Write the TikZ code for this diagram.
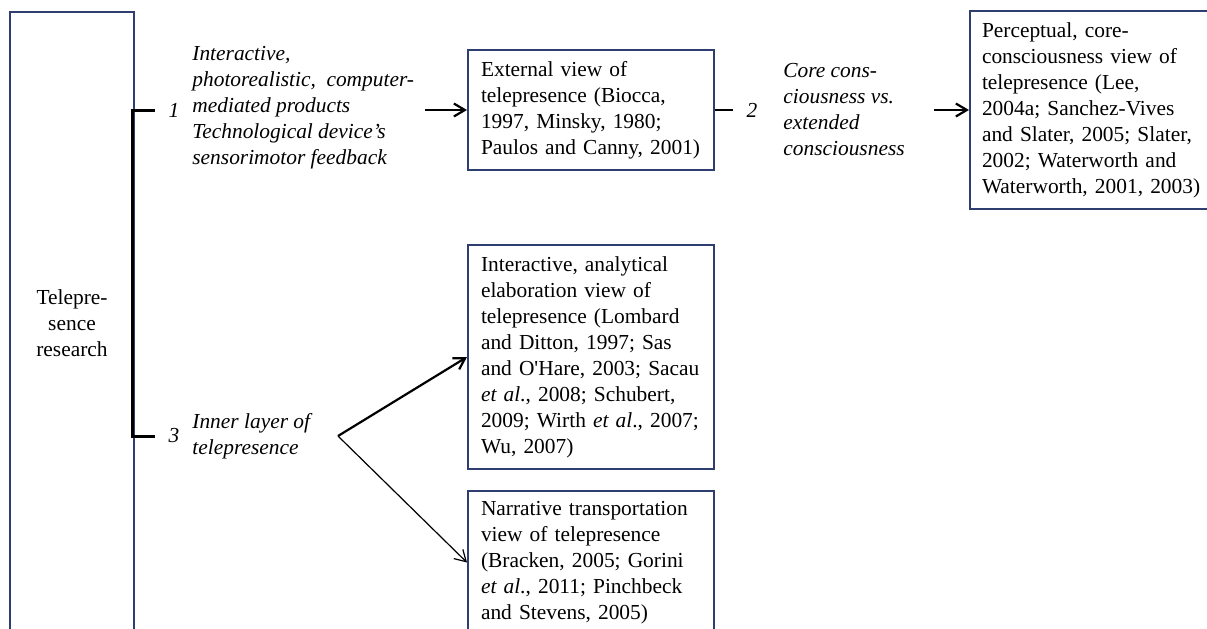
\documentclass[tikz,border=0pt]{standalone}
\usepackage{fontspec}
\setmainfont{Liberation Serif}
\usetikzlibrary{arrows.meta, positioning}
\definecolor{BoxNavy}{HTML}{2F3E70}
\definecolor{LineBlack}{HTML}{000000}
\tikzset{
    % Default text
    every node/.style={font=\fontsize{10.7}{13}\selectfont},
    % Root box on the left
    root/.style={
        rectangle,
        draw=BoxNavy,
        line width=1pt,
        minimum width=62pt,
        minimum height=311pt,
        align=center,
        inner sep=0pt
    },
    % View box
    view/.style={
        rectangle,
        draw=BoxNavy,
        line width=1pt,
        text width=110pt,
        inner xsep=6.5pt,
        align=left
    },
    % Italic theme text
    theme/.style={
        inner sep=0pt,
        align=left,
        font=\fontsize{10.7}{13}\selectfont\itshape
    },
    % Branch number
    num/.style={
        inner sep=0pt,
        font=\fontsize{10.7}{13}\selectfont\itshape
    },
    % Arrow style
    arrow/.style={
        -{Straight Barb[length=5.5pt,width=6.5pt]},
        line width=1.1pt,
        color=LineBlack
    },
    % Plain link
    link/.style={
        line width=1.1pt,
        color=LineBlack
    },
    % Bracket
    bracket/.style={
        line width=1.5pt,
        color=LineBlack
    }
}

\begin{document}
\begin{tikzpicture}[x=0.5pt, y=-0.5pt]
    \useasboundingbox (0,0) rectangle (1207,628);
    \clip (0,0) rectangle (1207,628);

    % Root
    \node (root) [root, anchor=north west] at (9,11) {Telepre-\\sence\\research};

    % Bracket
    \coordinate (b1) at (132,110);
    \coordinate (b3) at (132,436);
    \coordinate (k1) at (155,110);
    \coordinate (k3) at (155,436);
    \draw [bracket] (k1) -- (b1) -- (b3) -- (k3);

    \node (n1) [num] at (174,110) {1};
    \node (n3) [num] at (174,436) {3};
    \node (t1) [theme, anchor=west] at (192,108) {Interactive,\\photorealistic,\ \ computer-\\mediated products\\Technological device’s\\sensorimotor feedback};
    \node (t3) [theme, anchor=west] at (192,436) {Inner layer of\\telepresence};

    % Views
    \node (ext) [view, anchor=west, minimum height=60pt] at (467,110) {External view of\\telepresence (Biocca,\\1997, Minsky, 1980;\\Paulos and Canny, 2001)};
    \node (perc) [view, right=127pt of ext, minimum height=99pt, text width=116pt, inner xsep=6pt] {Perceptual, core-\\consciousness view of\\telepresence (Lee,\\2004a; Sanchez-Vives\\and Slater, 2005; Slater,\\2002; Waterworth and\\Waterworth, 2001, 2003)};
    \node (inter) [view, below=36.5pt of ext, minimum height=112pt] {Interactive, analytical\\elaboration view of\\telepresence (Lombard\\and Ditton, 1997; Sas\\and O\textquotesingle Hare, 2003; Sacau\\\textit{et al}., 2008; Schubert,\\2009; Wirth \textit{et al}., 2007;\\Wu, 2007)};
    \node (narr) [view, below=10pt of inter, minimum height=71.5pt] {Narrative transportation\\view of telepresence\\(Bracken, 2005; Gorini\\\textit{et al}., 2011; Pinchbeck\\and Stevens, 2005)};

    % Middle label
    \node (n2) [num] at (752,110) {2};
    \node (t2) [theme, anchor=west] at (783,110) {Core cons-\\ciousness vs.\\extended\\consciousness};

    % Connectors
    \coordinate (a1) at (425,110);
    \coordinate (k2) at (733,110);
    \coordinate (a2) at (934,110);
    \coordinate (fork) at (338,436);

    \draw [arrow] (a1) -- (ext.west);
    \draw [link] (ext.east) -- (k2);
    \draw [arrow] (a2) -- (perc.west);
    \draw [arrow] (fork) -- (inter.west);
    \draw [arrow, line width=0.6pt] (fork) -- (narr.west);
\end{tikzpicture}
\end{document}
